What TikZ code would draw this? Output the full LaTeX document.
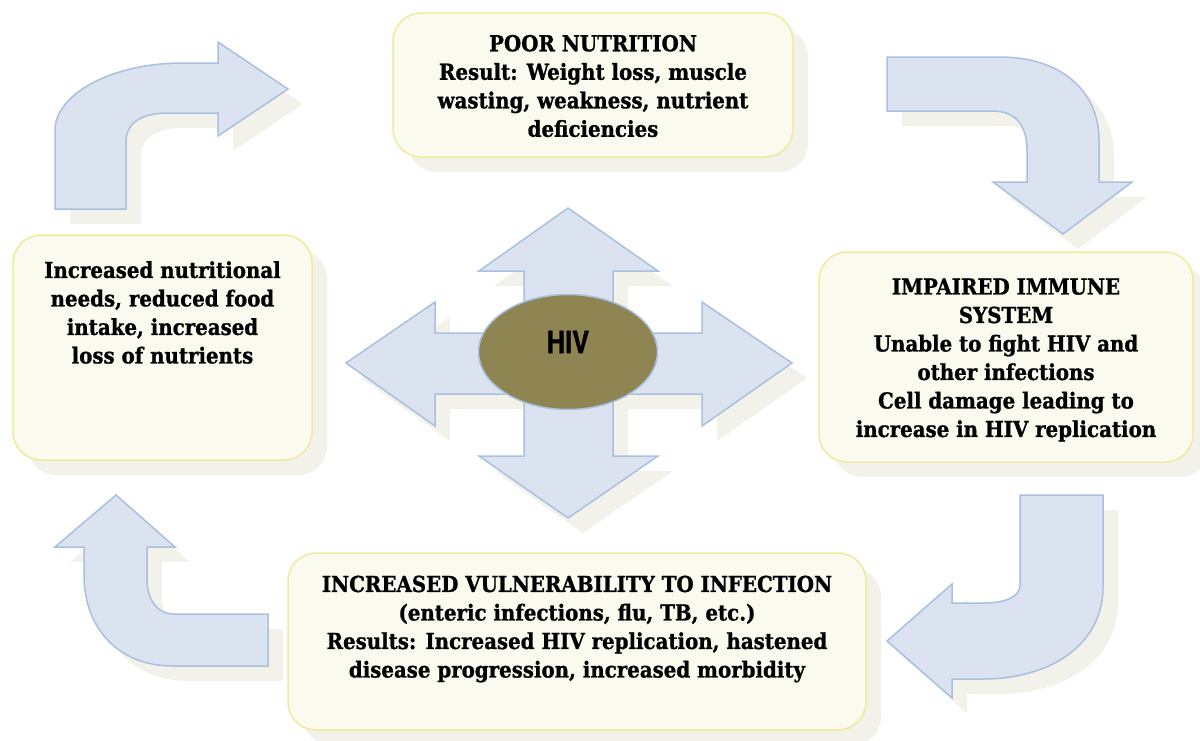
\documentclass[tikz,border=0pt]{standalone}
\usepackage{fontspec}
\setmainfont{DejaVuSerifCondensed-Bold.ttf}[FakeBold=1]
\newfontfamily\hivfont{texgyreheroscn-bold.otf}[FakeBold=1]
\usetikzlibrary{shapes.geometric,shadows}

\definecolor{boxfill}{HTML}{FAFAEE}
\definecolor{boxline}{HTML}{F0EB9C}
\definecolor{shadefill}{HTML}{F2F2EB}
\definecolor{arrowfill}{HTML}{DAE3EF}
\definecolor{arrowline}{HTML}{A9C0DF}
\definecolor{hivfill}{HTML}{8E8552}

\tikzset{
  cycshadow/.style={drop shadow={shadow xshift=15pt, shadow yshift=-15pt, fill=shadefill, opacity=1}},
  cycbox/.style={draw=boxline, fill=boxfill, line width=1.5pt, rounded corners=28pt, cycshadow},
  bigarrow/.style={draw=arrowline, fill=arrowfill, line width=1.5pt, cycshadow},
  cyctext/.style={align=center, inner sep=0pt, font=\fontsize{22}{28.5}\selectfont},
}

\begin{document}
\begin{tikzpicture}[x=1pt, y=-1pt]
  \useasboundingbox (0,0) rectangle (1200,740);

  % bent arrows round the cycle
  \draw[bigarrow] (55,209) -- (55,130) .. controls (55,95) and (110,63) .. (183,63)
    -- (218,63) -- (218,42) -- (288,89) -- (218,136) -- (218,113) -- (168,113)
    .. controls (143,113) and (126,122) .. (126,142) -- (126,209) -- cycle;

  \draw[bigarrow] (887,57) -- (1000,57) .. controls (1060,57) and (1099,90) .. (1099,140)
    -- (1099,182) -- (1132,182) -- (1063,234) -- (993,182) -- (1027,182) -- (1027,150)
    .. controls (1027,125) and (1015,111) .. (993,111) -- (887,111) -- cycle;

  \draw[bigarrow] (1020,495) -- (1103,495) -- (1103,587) .. controls (1103,645) and (1050,679) .. (983,679)
    -- (952,679) -- (952,698) -- (887,641) -- (952,584) -- (952,603) -- (983,603)
    .. controls (1005,603) and (1020,597) .. (1020,585) -- cycle;

  \draw[bigarrow] (116,495) -- (175,547) -- (147,547) -- (147,580)
    .. controls (147,600) and (158,614) .. (173,614) -- (268,614) -- (268,666) -- (173,666)
    .. controls (120,666) and (84,630) .. (84,575) -- (84,547) -- (55,547) -- cycle;

  %% the four-way arrow in the middle
  \draw[bigarrow] (568,208) -- (658,271) -- (613,271) -- (613,333) -- (702,333) -- (702,302)
    -- (792,363) -- (702,426) -- (702,394) -- (613,394) -- (613,456) -- (658,456)
    -- (568,518) -- (479,456) -- (524,456) -- (524,394) -- (435,394) -- (435,426)
    -- (346,363) -- (435,302) -- (435,333) -- (524,333) -- (524,271) -- (479,271) -- cycle;

  \node[ellipse, draw=arrowline, fill=hivfill, line width=1.5pt, minimum width=179pt, minimum height=115pt] (hiv) at (568,352) {};
  \node[font=\hivfont\fontsize{31}{31}\selectfont, inner sep=0pt] (hivlabel) at ([yshift=10pt]hiv.center) {HIV};

  %% boxes
  \node[cycbox, minimum width=400pt, minimum height=144pt] (poor) at (593,85) {};
  \node[cyctext] (poortext) at (593,86) {POOR NUTRITION\\Result: Weight loss, muscle\\wasting, weakness, nutrient\\deficiencies};

  \node[cycbox, minimum width=374pt, minimum height=210pt] (immune) at (1006,357) {};
  \node[cyctext] (immunetext) at (1006,360) {IMPAIRED IMMUNE\\SYSTEM\\Unable to fight HIV and\\other infections\\Cell damage leading to\\increase in HIV replication};

  \node[cycbox, minimum width=578pt, minimum height=177pt] (vuln) at (577,641.5) {};
  \node[cyctext] (vulntext) at (577,629) {INCREASED VULNERABILITY TO INFECTION\\(enteric infections, flu, TB, etc.)\\Results: Increased HIV replication, hastened\\disease progression, increased morbidity};

  \node[cycbox, minimum width=299pt, minimum height=225pt] (needs) at (162.5,347.5) {};
  \node[cyctext, anchor=north] (needstext) at (162.5,261) {Increased nutritional\\needs, reduced food\\intake, increased\\loss of nutrients};

\end{tikzpicture}
\end{document}
